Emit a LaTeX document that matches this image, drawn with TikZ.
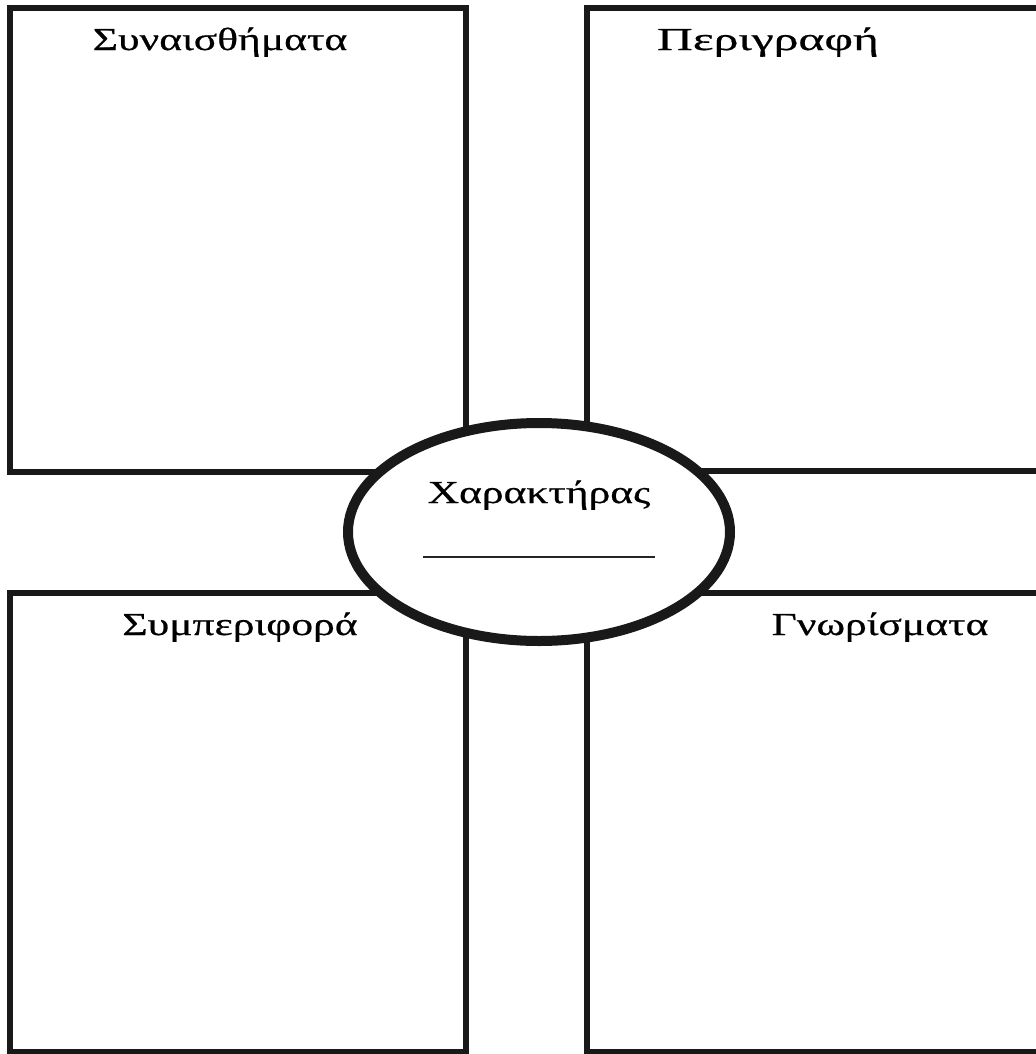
\documentclass[tikz,border=0pt]{standalone}
\usepackage{fontspec}
\usetikzlibrary{shapes.geometric}
\setmainfont{Liberation Serif}
\newfontfamily\grk[FakeStretch=1.36,FakeBold=0.6]{Liberation Serif}
\newfontfamily\grkwide[FakeStretch=1.55,FakeBold=0.6]{Liberation Serif}
\tikzset{
  panel/.style={draw=black!90, line width=4.2pt},
  title/.style={font=\grk\fontsize{24}{28}\selectfont, anchor=base, inner sep=0pt},
  widetitle/.style={title, font=\grkwide\fontsize{24}{28}\selectfont},
  oval/.style={ellipse, draw=black!90, fill=white, line width=7.5pt, minimum width=286.5pt, minimum height=163.5pt, inner sep=0pt},
  blank/.style={draw=black!85, line width=1.1pt}
}
\begin{document}
\begin{tikzpicture}[x=0.75pt,y=-0.75pt]
\useasboundingbox (0,0) rectangle (1036,1054);
\fill[white] (0,0) rectangle (1036,1054);
\clip (0,0) rectangle (1036,1054);
% panels
\draw[panel] (10,8) rectangle (466,472);
\draw[panel] (587,8) rectangle (1050,471);
\draw[panel] (10,593) rectangle (466,1052);
\draw[panel] (587,593) rectangle (1050,1052);
% titles
\node[title] (t1) at (220,50) {Συναισθήματα};
\node[widetitle] (t2) at (768,50) {Περιγραφή};
\node[title] (t3) at (240,635) {Συμπεριφορά};
\node[title] (t4) at (880,635) {Γνωρίσματα};
% central oval
\node[oval] (c) at (539,532) {};
\node[title] (ct) at (539,503) {Χαρακτήρας};
\coordinate (ul) at (423,557);
\coordinate (ur) at (655,557);
\draw[blank] (ul) -- (ur);
\end{tikzpicture}
\end{document}
